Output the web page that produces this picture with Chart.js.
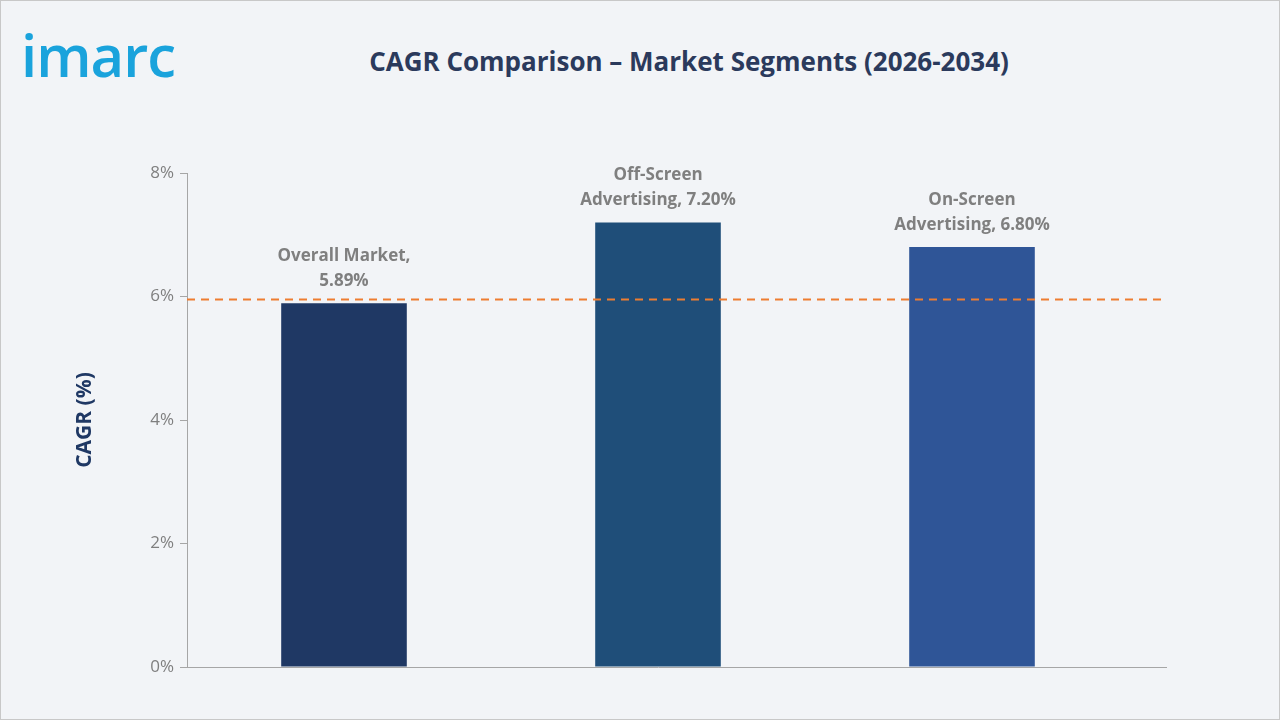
<!DOCTYPE html>
<html><head><meta charset="utf-8">
<script src="https://cdn.jsdelivr.net/npm/chart.js@4.4.1/dist/chart.umd.min.js"></script>
<style>
html,body{margin:0;padding:0;background:#f2f4f7;}
#wrap{position:relative;width:1278px;height:718px;border:1px solid #c8c8c8;background:#f2f4f7;}
#logo{position:absolute;left:20px;top:14px;font:600 58px "Open Sans",sans-serif;color:#1aa3dc;letter-spacing:-1px;}
#title{position:absolute;left:0;width:1376px;top:42px;text-align:center;font:bold 26px "Open Sans",sans-serif;color:#2b3a5c;}
canvas{position:absolute;left:0;top:0;}
</style></head><body>
<div id="wrap"><div id="logo">imarc</div><div id="title">CAGR Comparison – Market Segments (2026-2034)</div>
<canvas id="c" width="1280" height="720"></canvas></div>
<script>
const categories=[["Overall Market,","5.89%"],["Off-Screen","Advertising, 7.20%"],["On-Screen","Advertising, 6.80%"]];
const values=[5.89,7.20,6.80];
const colors=["#1f3864","#1f4e79","#2f5597"];
const refLine=5.95;
const yTicks=[0,2,4,6,8];
const labelPlugin={id:'lbl',afterDatasetsDraw(ch){const c=ch.ctx;const m=ch.getDatasetMeta(0);
 const y=ch.scales.y;const a=ch.chartArea;c.save();
 c.strokeStyle='#a6a6a6';c.lineWidth=1;c.beginPath();c.moveTo(a.right,a.bottom+0.5);c.lineTo(1166,a.bottom+0.5);c.stroke();
 c.strokeStyle='#ed7d31';c.lineWidth=2;c.setLineDash([8,6]);c.beginPath();const ly=y.getPixelForValue(refLine);c.moveTo(a.left,ly);c.lineTo(1160,ly);c.stroke();
 c.setLineDash([]);c.fillStyle='#7f7f7f';c.font='bold 17px "Open Sans",sans-serif';c.textAlign='center';
 m.data.forEach((b,i)=>{const l=categories[i];c.fillText(l[0],b.x,b.y-42);c.fillText(l[1],b.x,b.y-17);});
 c.save();c.translate(90,(a.top+a.bottom)/2);c.rotate(-Math.PI/2);c.fillStyle='#1f3864';c.font='bold 21px "Open Sans",sans-serif';c.fillText('CAGR (%)',0,0);c.restore();
 c.restore();}};
new Chart(document.getElementById('c'),{type:'bar',data:{labels:categories.map(c=>c.join(' ')),datasets:[{data:values,backgroundColor:colors,barPercentage:0.4,categoryPercentage:1}]},
options:{responsive:false,animation:false,layout:{padding:{top:172,right:152,bottom:54,left:0}},
plugins:{legend:{display:false},tooltip:{enabled:false}},
scales:{x:{ticks:{display:false},grid:{display:false,drawTicks:false},border:{color:'#a6a6a6',width:1},afterFit(s){s.height=0;}},
y:{min:0,max:8,afterBuildTicks(s){s.ticks=yTicks.map(v=>({value:v}));},afterFit(s){s.width=186;},
ticks:{color:'#7f7f7f',font:{size:17,family:'"Open Sans",sans-serif'},callback:v=>v+'%',padding:6},
grid:{display:true,drawOnChartArea:false,tickLength:7,color:'#a6a6a6'},border:{color:'#a6a6a6'}}}},
plugins:[labelPlugin]});
</script></body></html>
